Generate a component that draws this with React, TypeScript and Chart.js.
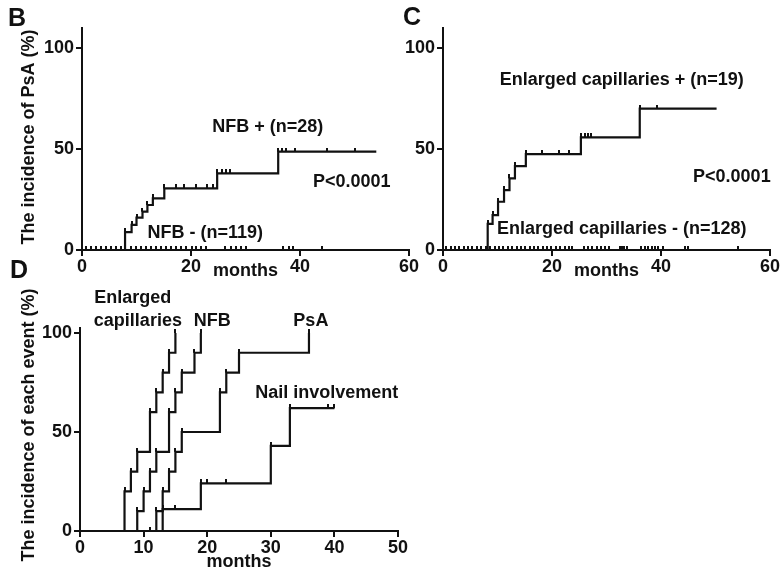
import React, { useEffect, useRef } from 'react';
import { Chart, registerables } from 'chart.js';

Chart.register(...registerables);

const FONT = '"Liberation Sans", Arial, Helvetica, sans-serif';

// ---------- Panel B: NFB ----------
const nfbPosMonths = [0, 7.9, 9.1, 10.0, 11.1, 12.0, 13.0, 15.1, 24.8, 36.0, 54.0];
const nfbPosIncidence = [0, 8.9, 12.4, 16.0, 19.0, 22.3, 25.6, 30.5, 38.0, 48.7, 48.7];
const nfbPosCensor = [17.2, 18.8, 21.0, 22.9, 24.1, 25.7, 26.5, 27.2, 36.7, 37.5, 39.1, 44.9, 50.1];
const nfbNegMonths = [0, 44.0];
const nfbNegIncidence = [0, 0];
const nfbNegCensor = [0.8, 1.7, 2.6, 3.5, 4.4, 5.4, 6.3, 7.2, 9.0, 9.9, 10.8, 11.7, 12.6, 13.6, 14.5, 15.4, 16.3, 17.2, 18.1, 19.1, 20.2, 21.0, 21.9, 22.8, 26.2, 27.4, 28.3, 29.2, 30.1, 36.9, 37.9, 38.8, 44.0];

// ---------- Panel C: Enlarged capillaries ----------
const ecPosMonths = [0, 8.2, 9.1, 10.1, 11.2, 12.2, 13.2, 15.2, 25.3, 36.1, 50.2];
const ecPosIncidence = [0, 12.9, 17.3, 23.9, 29.7, 35.5, 41.6, 47.5, 55.8, 70.1, 70.1];
const ecPosCensor = [18.1, 21.2, 23.2, 26.1, 26.6, 27.2, 39.2];
const ecNegMonths = [0, 54.2];
const ecNegIncidence = [0, 0];
const ecNegCensor = [0.6, 1.4, 2.2, 3.0, 3.8, 4.6, 5.4, 6.2, 7.0, 7.8, 8.7, 9.5, 10.3, 11.1, 11.9, 12.7, 13.5, 14.3, 15.1, 15.9, 16.7, 17.5, 18.3, 19.1, 19.9, 20.7, 21.5, 22.3, 23.1, 23.7, 25.8, 26.6, 27.4, 28.2, 29.0, 29.8, 30.5, 32.5, 32.9, 33.3, 33.7, 36.3, 37.0, 37.7, 38.3, 38.9, 39.5, 40.3, 44.4, 45.0, 54.2];

// ---------- Panel D: each event ----------
const dEcMonths = [0, 7, 8, 9, 11, 12, 13, 14, 15];
const dEcIncidence = [0, 20, 30, 40, 60, 70, 80, 90, 100];
const dNfbMonths = [0, 9, 10, 11, 12, 14, 15, 16, 18, 19];
const dNfbIncidence = [0, 10, 20, 30, 40, 60, 70, 80, 90, 100];
const dPsaMonths = [0, 12, 13, 14, 15, 16, 22, 23, 25, 36];
const dPsaIncidence = [0, 10, 20, 30, 40, 50, 70, 80, 90, 100];
const dNailMonths = [0, 13, 19, 30, 33, 40];
const dNailIncidence = [0, 11, 24, 43, 62, 62];
const dNailCensor = [11, 15, 20, 23, 39, 40];

const yTicksPct = [0, 50, 100];

type Curve = { xs: number[]; ys: number[]; censor?: number[] };
type Label = { text: string; x: number; y: number; data?: boolean; rotate?: boolean; size?: number };

const toPoints = (xs: number[], ys: number[]) => xs.map((x, i) => ({ x, y: ys[i] }));
function levelAt(xs: number[], ys: number[], t: number) {
  let v = ys[0];
  for (let i = 0; i < xs.length; i++) if (xs[i] <= t) v = ys[i];
  return v;
}
function markPoints(c: Curve) {
  const out: { x: number; y: number }[] = [];
  for (let i = 1; i < c.xs.length; i++) if (c.ys[i] !== c.ys[i - 1]) out.push({ x: c.xs[i], y: c.ys[i] });
  (c.censor || []).forEach((t) => out.push({ x: t, y: levelAt(c.xs, c.ys, t) }));
  return out;
}

const textPlugin = {
  id: 'texts',
  afterDraw(chart: any, _args: any, opts: any) {
    const ctx = chart.ctx;
    const xs = chart.scales.x;
    const ys = chart.scales.y;
    for (const l of (opts.items || []) as Label[]) {
      const px = l.data ? xs.getPixelForValue(l.x) : l.x;
      const py = l.data ? ys.getPixelForValue(l.y) : l.y;
      ctx.save();
      ctx.font = `bold ${l.size || 18}px ${FONT}`;
      ctx.fillStyle = '#111';
      ctx.textAlign = 'center';
      ctx.textBaseline = 'middle';
      ctx.translate(px, py);
      if (l.rotate) ctx.rotate(-Math.PI / 2);
      ctx.fillText(l.text, 0, 0);
      ctx.restore();
    }
  },
};

type PanelProps = {
  left: number; top: number; width: number; height: number;
  curves: Curve[]; xMax: number; xStep: number; yMax: number;
  yAxisWidth: number; xAxisHeight: number; padTop: number; padRight: number;
  labels: Label[];
};

function Panel(p: PanelProps) {
  const ref = useRef<HTMLCanvasElement | null>(null);
  useEffect(() => {
    if (!ref.current) return;
    const tick = document.createElement('canvas');
    tick.width = 2;
    tick.height = 8;
    const g = tick.getContext('2d')!;
    g.fillStyle = '#111';
    g.fillRect(0, 0, 2, 4);

    const datasets: any[] = [];
    p.curves.forEach((c) => {
      datasets.push({
        data: toPoints(c.xs, c.ys),
        stepped: true,
        borderColor: '#111',
        borderWidth: 2.2,
        pointRadius: 0,
        fill: false,
        clip: false,
      });
      datasets.push({
        data: markPoints(c),
        showLine: false,
        pointStyle: tick,
        pointRadius: 4,
        clip: false,
      });
    });

    const axisFont = { family: FONT, size: 18, weight: 'bold' as const };
    const chart = new Chart(ref.current, {
      type: 'line',
      data: { datasets },
      plugins: [textPlugin as any],
      options: {
        responsive: false,
        animation: false,
        layout: { padding: { top: p.padTop, right: p.padRight, left: 0, bottom: 0 } },
        plugins: {
          legend: { display: false },
          tooltip: { enabled: false },
          texts: { items: p.labels },
        } as any,
        scales: {
          x: {
            type: 'linear',
            min: 0,
            max: p.xMax,
            ticks: { stepSize: p.xStep, font: axisFont, color: '#111', padding: 0, maxRotation: 0 },
            grid: { drawOnChartArea: false, drawTicks: true, tickLength: 6, color: '#111', lineWidth: 2 },
            border: { display: true, color: '#111', width: 2 },
            afterFit: (s: any) => { s.height = p.xAxisHeight; },
          },
          y: {
            type: 'linear',
            min: 0,
            max: p.yMax,
            ticks: { font: axisFont, color: '#111', padding: 2 },
            grid: { drawOnChartArea: false, drawTicks: true, tickLength: 6, color: '#111', lineWidth: 2 },
            border: { display: true, color: '#111', width: 2 },
            afterBuildTicks: (s: any) => { s.ticks = yTicksPct.map((v) => ({ value: v })); },
            afterFit: (s: any) => { s.width = p.yAxisWidth; },
          },
        },
      } as any,
    });
    return () => chart.destroy();
  }, []);
  return (
    <canvas
      ref={ref}
      width={p.width}
      height={p.height}
      style={{ position: 'absolute', left: p.left, top: p.top, width: p.width, height: p.height }}
    />
  );
}

export default function App() {
  return (
    <div style={{ position: 'absolute', left: 0, top: 0, width: 781, height: 573, background: '#fff', overflow: 'hidden' }}>
      <Panel
        left={0} top={0} width={420} height={285}
        curves={[
          { xs: nfbNegMonths, ys: nfbNegIncidence, censor: nfbNegCensor },
          { xs: nfbPosMonths, ys: nfbPosIncidence, censor: nfbPosCensor },
        ]}
        xMax={60} xStep={20} yMax={110}
        yAxisWidth={82} xAxisHeight={35} padTop={28} padRight={11}
        labels={[
          { text: 'B', x: 17, y: 19, size: 25 },
          { text: 'The incidence of PsA (%)', x: 29, y: 137, rotate: true },
          { text: 'months', x: 245.5, y: 271 },
          { text: 'NFB + (n=28)', x: 34.1, y: 60.9, data: true },
          { text: 'P<0.0001', x: 49.5, y: 33.7, data: true },
          { text: 'NFB - (n=119)', x: 22.6, y: 8.4, data: true },
        ]}
      />
      <Panel
        left={390} top={0} width={391} height={285}
        curves={[
          { xs: ecNegMonths, ys: ecNegIncidence, censor: ecNegCensor },
          { xs: ecPosMonths, ys: ecPosIncidence, censor: ecPosCensor },
        ]}
        xMax={60} xStep={20} yMax={110}
        yAxisWidth={53} xAxisHeight={35} padTop={28} padRight={11}
        labels={[
          { text: 'C', x: 22, y: 18, size: 25 },
          { text: 'months', x: 216.5, y: 271 },
          { text: 'Enlarged capillaries + (n=19)', x: 32.8, y: 84.2, data: true },
          { text: 'P<0.0001', x: 53.0, y: 36.1, data: true },
          { text: 'Enlarged capillaries - (n=128)', x: 32.8, y: 10.4, data: true },
        ]}
      />
      <Panel
        left={0} top={255} width={420} height={318}
        curves={[
          { xs: dEcMonths, ys: dEcIncidence },
          { xs: dNfbMonths, ys: dNfbIncidence },
          { xs: dPsaMonths, ys: dPsaIncidence },
          { xs: dNailMonths, ys: dNailIncidence, censor: dNailCensor },
        ]}
        xMax={50} xStep={10} yMax={102.5}
        yAxisWidth={80} xAxisHeight={42} padTop={73} padRight={22}
        labels={[
          { text: 'D', x: 19, y: 16, size: 25 },
          { text: 'The incidence of each event (%)', x: 29, y: 170, rotate: true },
          { text: 'months', x: 239, y: 307 },
          { text: 'Enlarged', x: 8.3, y: 117.7, data: true },
          { text: 'capillaries', x: 9.1, y: 106, data: true },
          { text: 'NFB', x: 20.8, y: 106, data: true },
          { text: 'PsA', x: 36.3, y: 106, data: true },
          { text: 'Nail involvement', x: 38.8, y: 69.7, data: true },
        ]}
      />
    </div>
  );
}
